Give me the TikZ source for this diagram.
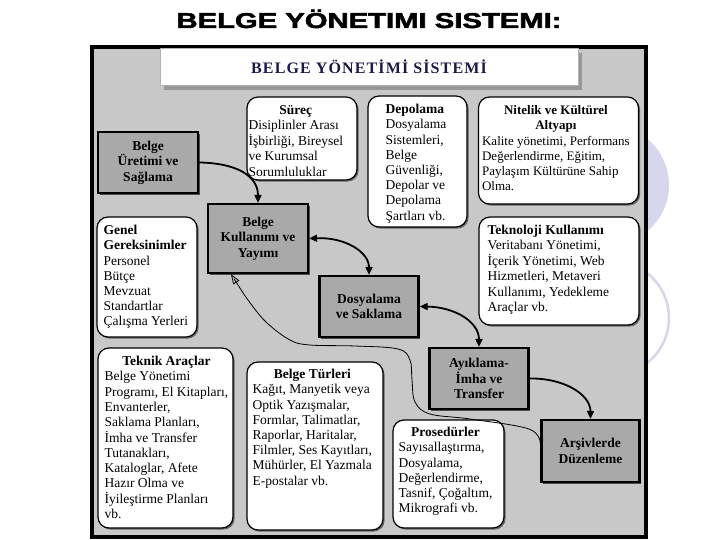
\documentclass[tikz,border=0pt]{standalone}
\usepackage{fontspec}
\setmainfont{Liberation Serif}
\newfontfamily\hdfont[BoldFeatures={FakeBold=2}]{Liberation Sans}
\newfontfamily\ttlfont[LetterSpace=7]{Liberation Serif}
\usetikzlibrary{arrows.meta,shadows,calc}
\definecolor{panelgray}{HTML}{C8C8C8}
\definecolor{boxgray}{HTML}{A9A9A9}
\definecolor{lav}{HTML}{D6D6EC}
\definecolor{navy}{HTML}{1A1A48}
\newcommand{\txtl}[1]{\begin{tabular}{@{}l@{}}#1\end{tabular}}
\newcommand{\mkhd}[1]{\multicolumn{1}{@{}c@{}}{#1}}
\tikzset{
  rbox/.style={draw=black, line width=1.2pt, fill=white, rounded corners=11pt,
    drop shadow={shadow xshift=1.6pt, shadow yshift=-1.6pt, fill=black!60, opacity=1}},
  gbox/.style={draw=black, line width=2.2pt, fill=boxgray, align=center,
    font=\fontsize{13.5}{15.5}\selectfont\bfseries, inner sep=0pt,
    drop shadow={shadow xshift=1.6pt, shadow yshift=-1.6pt, fill=black!70, opacity=1}},
  tbox/.style={fill=white, draw=black!30, line width=0.6pt, inner sep=0pt,
    drop shadow={shadow xshift=4pt, shadow yshift=-5pt, fill=black!45, opacity=.8}},
  txt/.style={inner sep=0pt, anchor=north west, font=\fontsize{13.5}{15.2}\selectfont},
  arr/.style={line width=1.8pt, -{Triangle[length=8pt,width=7pt]}},
  darr/.style={line width=1.8pt, {Triangle[length=8pt,width=7pt]}-{Triangle[length=8pt,width=7pt]}},
  thinarr/.style={line width=0.8pt, -{Triangle[open,length=10pt,width=7pt]}},
}
\begin{document}
\begin{tikzpicture}[x=1pt,y=-1pt]
\useasboundingbox (0,0) rectangle (720,540);
\fill[white] (0,0) rectangle (720,540);
% background decoration
\fill[lav] (609,185) circle (60pt);
\draw[lav, line width=2.5pt] (612,318) circle (57pt);
% heading
\node[font=\hdfont\bfseries\fontsize{21.5}{24}\selectfont, inner sep=0pt, anchor=base] (hd) at (369,28) {\scalebox{1.36}[1]{BELGE YÖNETIMI SISTEMI:}};
% panel
\draw[line width=4pt, fill=panelgray] (91.5,47) rectangle (645.5,536.5);
% title box
\node[tbox, minimum width=418pt, minimum height=37pt] (ttl) at (369,66.5)
  {\ttlfont\bfseries\fontsize{16}{18}\selectfont\color{navy}BELGE YÖNETİMİ SİSTEMİ};
% rounded boxes
\node[rbox, minimum width=110pt, minimum height=83pt] (sur) at (302,138.5) {};
\node[rbox, minimum width=99pt, minimum height=131pt] (dep) at (417.5,161.5) {};
\node[rbox, minimum width=160pt, minimum height=107pt] (nit) at (558.5,150.5) {};
\node[rbox, minimum width=160pt, minimum height=108pt] (tek) at (559,271) {};
\node[rbox, minimum width=100pt, minimum height=120pt] (gen) at (147,277) {};
\node[rbox, minimum width=135pt, minimum height=180pt] (tka) at (165.5,438) {};
\node[rbox, minimum width=136pt, minimum height=168pt] (btu) at (315,446) {};
\node[rbox, minimum width=111pt, minimum height=108pt] (pro) at (448.5,474) {};
% grey process boxes
\node[gbox, minimum width=100pt, minimum height=61pt] (ure) at (148,162.5) {Belge\\Üretimi ve\\Sağlama};
\node[gbox, minimum width=100pt, minimum height=69pt] (kul) at (258,238.5) {Belge\\Kullanımı ve\\Yayımı};
\node[gbox, minimum width=99pt, minimum height=61pt] (dos) at (369,306.5) {Dosyalama\\ve Saklama};
\node[gbox, minimum width=99pt, minimum height=61pt] (ayi) at (479,378.5) {Ayıklama-\\İmha ve\\Transfer};
\node[gbox, minimum width=98pt, minimum height=62pt] (ars) at (590.5,451) {Arşivlerde\\Düzenleme};
% texts of rounded boxes
\node[txt] (surt) at ($(sur.north west)+(2,7.5)$) {\txtl{\mkhd{\textbf{Süreç}}\\Disiplinler Arası\\İşbirliği, Bireysel\\ve Kurumsal\\Sorumluluklar}};
\node[txt] (dept) at ($(dep.north west)+(18,7.5)$) {\txtl{\textbf{Depolama}\\Dosyalama\\Sistemleri,\\Belge\\Güvenliği,\\Depolar ve\\Depolama\\Şartları vb.}};
\node[txt, font=\fontsize{13}{15.2}\selectfont] (nitt) at ($(nit.north west)+(4,7.5)$) {\txtl{\mkhd{\textbf{Nitelik ve Kültürel}}\\\mkhd{\textbf{Altyapı}}\\Kalite yönetimi, Performans\\Değerlendirme, Eğitim,\\Paylaşım Kültürüne Sahip\\Olma.}};
\node[txt] (tekt) at ($(tek.north west)+(9,7.5)$) {\txtl{\textbf{Teknoloji Kullanımı}\\Veritabanı Yönetimi,\\İçerik Yönetimi, Web\\Hizmetleri, Metaveri\\Kullanımı, Yedekleme\\Araçlar vb.}};
\node[txt] (gent) at ($(gen.north west)+(7,7.5)$) {\txtl{\textbf{Genel}\\\textbf{Gereksinimler}\\Personel\\Bütçe\\Mevzuat\\Standartlar\\Çalışma Yerleri}};
\node[txt] (tkat) at ($(tka.north west)+(7,7.5)$) {\txtl{\mkhd{\textbf{Teknik Araçlar}}\\Belge Yönetimi\\Programı, El Kitapları,\\Envanterler,\\Saklama Planları,\\İmha ve Transfer\\Tutanakları,\\Kataloglar, Afete\\Hazır Olma ve\\İyileştirme Planları\\vb.}};
\node[txt] (btut) at ($(btu.north west)+(6,6.5)$) {\txtl{\mkhd{\textbf{Belge Türleri}}\\Kağıt, Manyetik veya\\Optik Yazışmalar,\\Formlar, Talimatlar,\\Raporlar, Haritalar,\\Filmler, Ses Kayıtları,\\Mühürler, El Yazmala\\E-postalar vb.}};
\node[txt] (prot) at ($(pro.north west)+(6,6.5)$) {\txtl{\mkhd{\textbf{Prosedürler}}\\Sayısallaştırma,\\Dosyalama,\\Değerlendirme,\\Tasnif, Çoğaltım,\\Mikrografi vb.}};
% connectors
\draw[arr] (ure.east) .. controls (235,163) and (258,175) .. (kul.north);
\draw[darr] (kul.east) .. controls (345,237) and (369,252) .. (dos.north);
\draw[darr] (dos.east) .. controls (455,307) and (479,322) .. (ayi.north);
\draw[arr] (ayi.east) .. controls (565,378) and (590.5,395) .. (ars.north);
\coordinate (arsin) at ($(ars.west)+(0,-7)$);
\coordinate (kulin) at ($(kul.south west)+(24,0)$);
\draw[thinarr] plot[smooth, tension=0.6] coordinates {(arsin) (529,429) (470,419) (430,414) (415,402) (412,380) (410,360) (398,349) (355,346) (310,345) (290,340) (266,322) (248,300) (238,285) (kulin)};
\end{tikzpicture}
\end{document}
